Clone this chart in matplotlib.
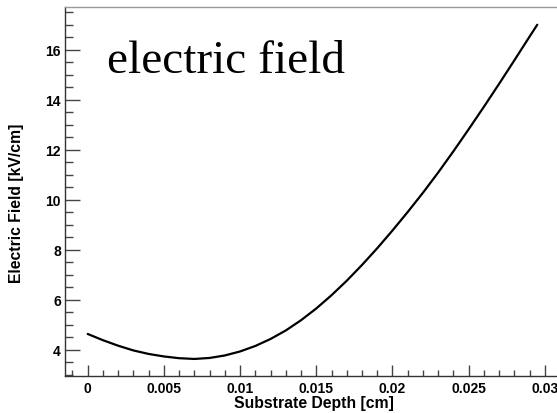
import matplotlib
matplotlib.use("Agg")
import matplotlib.pyplot as plt
from matplotlib.ticker import MultipleLocator, FixedLocator, FixedFormatter

# Electric field along the substrate depth
depth_cm = [0.000, 0.001, 0.002, 0.003, 0.004, 0.005, 0.006, 0.007, 0.008,
            0.009, 0.010, 0.011, 0.012, 0.013, 0.014, 0.015, 0.016, 0.017,
            0.018, 0.019, 0.020, 0.021, 0.022, 0.023, 0.024, 0.025, 0.026,
            0.027, 0.028, 0.029, 0.0295]
field_kv_cm = [4.64, 4.39, 4.17, 3.98, 3.84, 3.74, 3.67, 3.64, 3.68,
               3.78, 3.94, 4.16, 4.44, 4.78, 5.19, 5.66, 6.19, 6.77,
               7.40, 8.07, 8.78, 9.52, 10.29, 11.10, 11.95, 12.83, 13.73,
               14.65, 15.59, 16.54, 17.01]

x_ticks = [0, 0.005, 0.01, 0.015, 0.02, 0.025, 0.03]
x_tick_labels = ["0", "0.005", "0.01", "0.015", "0.02", "0.025", "0.03"]
y_ticks = [4, 6, 8, 10, 12, 14, 16]
y_tick_labels = ["4", "6", "8", "10", "12", "14", "16"]

W, H = 557, 414
fig = plt.figure(figsize=(W / 100, H / 100), dpi=100)
fig.patch.set_facecolor("white")

left_px, right_px, top_px, bottom_px = 65, 565, 8, 376.7
ax = fig.add_axes([left_px / W, 1 - bottom_px / H,
                   (right_px - left_px) / W, (bottom_px - top_px) / H])

ax.plot(depth_cm, field_kv_cm, color="black", lw=1.6,
        solid_capstyle="round", solid_joinstyle="round")

ax.set_xlim(-0.00149, 0.03132)
ax.set_ylim(2.97, 17.72)

ax.xaxis.set_major_locator(FixedLocator(x_ticks))
ax.xaxis.set_major_formatter(FixedFormatter(x_tick_labels))
ax.xaxis.set_minor_locator(MultipleLocator(0.001))
ax.yaxis.set_major_locator(FixedLocator(y_ticks))
ax.yaxis.set_major_formatter(FixedFormatter(y_tick_labels))
ax.yaxis.set_minor_locator(MultipleLocator(0.5))

for lab in ax.get_xticklabels() + ax.get_yticklabels():
    lab.set_fontfamily("Liberation Sans")
    lab.set_fontweight("bold")
    lab.set_fontsize(10)

ax.tick_params(axis="x", which="major", direction="in", length=8, width=1,
               color="#444444", pad=4)
ax.tick_params(axis="x", which="minor", direction="in", length=4.5, width=1,
               color="#444444")
ax.tick_params(axis="y", which="major", direction="in", length=11, width=1,
               color="#444444", pad=3)
ax.tick_params(axis="y", which="minor", direction="in", length=5.5, width=1,
               color="#444444")

ax.spines["left"].set_color("#333333")
ax.spines["bottom"].set_color("#333333")
ax.spines["top"].set_color("#999999")
ax.spines["right"].set_color("#999999")
for s in ax.spines.values():
    s.set_linewidth(1)

title_font = dict(family="Liberation Sans", weight="bold", size=11.3)
fig.text(314 / W, 1 - 404 / H, "Substrate Depth [cm]", ha="center",
         va="center", **title_font)
fig.text(17 / W, 1 - 203 / H, "Electric Field [kV/cm]", ha="center",
         va="center", rotation=90, **title_font)

fig.text(107 / W, 1 - 73 / H, "electric field", ha="left", va="baseline",
         family="Liberation Serif", size=34)

fig.savefig("out.png", dpi=100)
